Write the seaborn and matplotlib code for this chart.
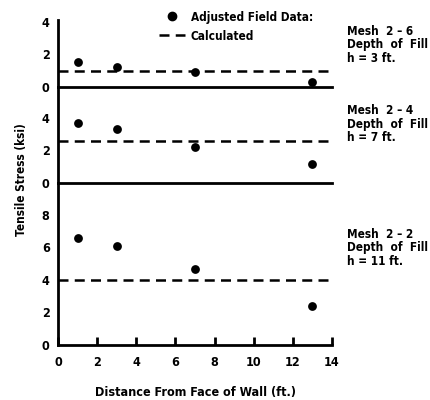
import numpy as np
import pandas as pd
import matplotlib
matplotlib.use('Agg')
import matplotlib.pyplot as plt
import seaborn as sns
from matplotlib.lines import Line2D

# --- data ---
distance = [1, 3, 7, 13]
panels = ['Mesh 2 - 6', 'Mesh 2 - 4', 'Mesh 2 - 2']
field_26 = [1.5, 1.25, 0.9, 0.3]
field_24 = [3.7, 3.3, 2.2, 1.15]
field_22 = [6.6, 6.1, 4.65, 2.4]
calc_values = [1.0, 2.6, 4.0]
panel_text = ['Mesh  2 – 6\nDepth  of  Fill\nh = 3 ft.',
              'Mesh  2 – 4\nDepth  of  Fill\nh = 7 ft.',
              'Mesh  2 – 2\nDepth  of  Fill\nh = 11 ft.']
text_pos = [0.63, 0.61, 0.60]
y_limits = [(0, 4.1), (0, 5.9), (0, 9.95)]
y_ticks = [[0, 2, 4], [0, 2, 4], [0, 2, 4, 6, 8]]
x_ticks = [0, 2, 4, 6, 8, 10, 12, 14]

df = pd.DataFrame({
    'distance': distance * 3,
    'stress': field_26 + field_24 + field_22,
    'panel': np.repeat(panels, len(distance)),
})

sns.set_style('white')
plt.rcParams['font.family'] = ['DejaVu Sans']
plt.rcParams['font.stretch'] = 'condensed'
plt.rcParams['font.weight'] = 'bold'
plt.rcParams['text.color'] = 'black'
plt.rcParams['axes.labelcolor'] = 'black'
plt.rcParams['xtick.color'] = 'black'
plt.rcParams['ytick.color'] = 'black'

fig, axes = plt.subplots(3, 1, figsize=(4.3, 4.0), dpi=100, sharex=True,
                         gridspec_kw={'height_ratios': [67, 96, 162], 'hspace': 0})
fig.subplots_adjust(left=0.135, right=0.772, bottom=0.1375, top=0.95)

for ax, name, calc, lim, ticks, txt, tp in zip(axes, panels, calc_values, y_limits,
                                               y_ticks, panel_text, text_pos):
    sub = df[df['panel'] == name]
    ax.set_facecolor('none')
    sns.scatterplot(data=sub, x='distance', y='stress', ax=ax, color='black',
                    s=40, edgecolor='black', linewidth=0, zorder=3, legend=False)
    ax.axhline(calc, color='black', lw=1.8, dashes=(4, 2.5))
    ax.set_ylim(*lim)
    ax.set_xlim(0, 14)
    ax.set_yticks(ticks)
    ax.set_ylabel('')
    ax.set_xlabel('')
    for side in ['top', 'right']:
        ax.spines[side].set_visible(False)
    for side in ['left', 'bottom']:
        ax.spines[side].set_linewidth(2)
        ax.spines[side].set_color('black')
        ax.spines[side].set_zorder(5)
    ax.tick_params(axis='y', direction='in', length=7, width=2, labelsize=9, pad=6)
    ax.tick_params(axis='x', direction='in', length=6, width=2, labelsize=9, pad=8)
    ax.tick_params(axis='x', bottom=False, labelbottom=False)
    ax.text(1.055, tp, txt, transform=ax.transAxes, fontsize=8.5,
            fontweight='bold', va='center', ha='left', linespacing=1.05)

axes[2].set_xticks(x_ticks)
axes[2].tick_params(axis='x', bottom=True, labelbottom=True)

axes[2].set_xlabel('Distance From Face of Wall (ft.)', fontsize=9, fontweight='bold', labelpad=12)
fig.text(0.05, 0.55, 'Tensile Stress (ksi)', rotation=90, fontsize=8.5,
         fontweight='bold', va='center', ha='center')

handles = [Line2D([], [], marker='o', color='black', ls='none', markersize=6),
           Line2D([], [], color='black', lw=1.8, dashes=(4, 2.5))]
fig.legend(handles, ['Adjusted Field Data:', 'Calculated'], loc='upper left',
           bbox_to_anchor=(0.345, 1.0), frameon=False,
           handlelength=2.2, labelspacing=0.5, handletextpad=0.5,
           prop={'weight': 'bold', 'size': 8.5, 'stretch': 'condensed'})

plt.savefig('out.png', dpi=100)
